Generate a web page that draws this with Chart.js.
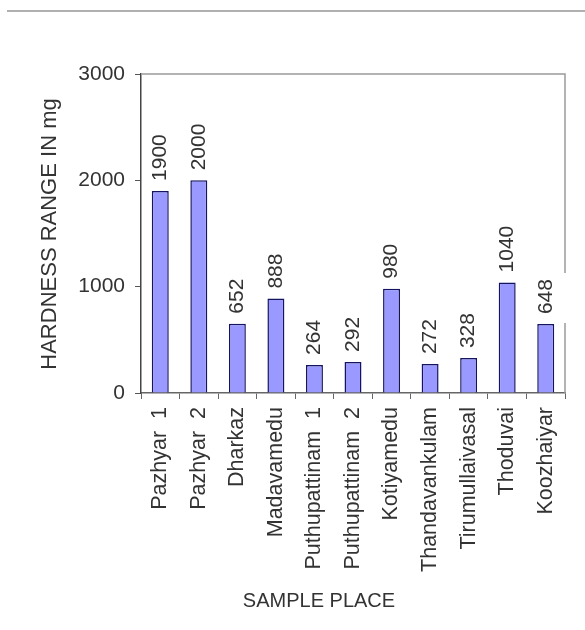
<!DOCTYPE html>
<html>
<head>
<meta charset="utf-8">
<script src="https://cdn.jsdelivr.net/npm/chart.js@4"></script>
<style>
  html, body { margin: 0; padding: 0; background: #ffffff; }
  #wrap { width: 585px; height: 630px; }
</style>
</head>
<body>
<div id="wrap"><canvas id="hardnessChart" width="585" height="630"></canvas></div>
<script>
const places = ['Pazhyar  1', 'Pazhyar  2', 'Dharkaz', 'Madavamedu', 'Puthupattinam  1',
    'Puthupattinam  2', 'Kotiyamedu', 'Thandavankulam', 'Tirumullaivasal', 'Thoduvai', 'Koozhaiyar'];
const hardness = [1900, 2000, 652, 888, 264, 292, 980, 272, 328, 1040, 648];
const yTicks = [0, 1000, 2000, 3000];

const FONT = '"Liberation Sans", Arial, sans-serif';
const TEXT = '#333333';

// top rule, right border with its break, axis titles
const framePlugin = {
    id: 'frame',
    beforeDraw(chart) {
        const ctx = chart.ctx;
        ctx.save();
        ctx.strokeStyle = '#b0b0b0';
        ctx.lineWidth = 2;
        ctx.beginPath();
        ctx.moveTo(7, 11);
        ctx.lineTo(585, 11);
        ctx.stroke();
        ctx.restore();
    },
    afterDraw(chart) {
        const ctx = chart.ctx;
        const a = chart.chartArea;
        ctx.save();
        ctx.strokeStyle = '#9a9a9a';
        ctx.lineWidth = 1.5;
        ctx.beginPath();
        ctx.moveTo(a.left, a.top);
        ctx.lineTo(a.right, a.top);
        ctx.lineTo(a.right, 273);
        ctx.moveTo(a.right, 323);
        ctx.lineTo(a.right, a.bottom);
        ctx.stroke();

        ctx.fillStyle = TEXT;
        ctx.textAlign = 'center';
        ctx.textBaseline = 'middle';
        ctx.font = '20px ' + FONT;
        ctx.fillText('SAMPLE PLACE', 319, 601);
        ctx.font = '22px ' + FONT;
        ctx.translate(50, 234);
        ctx.rotate(-Math.PI / 2);
        ctx.fillText('HARDNESS RANGE IN mg', 0, 0);
        ctx.restore();
    }
};

// vertical value labels above each bar
const valueLabels = {
    id: 'valueLabels',
    afterDatasetsDraw(chart) {
        const ctx = chart.ctx;
        const meta = chart.getDatasetMeta(0);
        ctx.save();
        ctx.fillStyle = TEXT;
        ctx.font = '21px ' + FONT;
        ctx.textAlign = 'left';
        ctx.textBaseline = 'middle';
        meta.data.forEach((bar, i) => {
            ctx.save();
            ctx.translate(bar.x, bar.y - 10);
            ctx.rotate(-Math.PI / 2);
            ctx.fillText(String(hardness[i]), 0, 0);
            ctx.restore();
        });
        ctx.restore();
    }
};

new Chart(document.getElementById('hardnessChart'), {
    type: 'bar',
    data: {
        labels: places,
        datasets: [{
            data: hardness,
            backgroundColor: '#9999ff',
            borderColor: '#141460',
            borderWidth: 1.5,
            barPercentage: 0.44,
            categoryPercentage: 1
        }]
    },
    options: {
        responsive: false,
        animation: false,
        devicePixelRatio: 1,
        layout: { padding: { top: 74, right: 20, left: 0, bottom: 0 } },
        plugins: {
            legend: { display: false },
            tooltip: { enabled: false }
        },
        scales: {
            x: {
                grid: {
                    offset: true,
                    drawOnChartArea: false,
                    drawTicks: true,
                    tickLength: 6,
                    color: '#666666'
                },
                border: { color: '#666666', width: 1.5 },
                ticks: {
                    color: TEXT,
                    font: { family: FONT, size: 21.5 },
                    minRotation: 90,
                    maxRotation: 90,
                    autoSkip: false,
                    padding: 8
                },
                afterFit(scale) { scale.height = 237; }
            },
            y: {
                min: 0,
                max: 3000,
                afterBuildTicks(scale) { scale.ticks = yTicks.map(v => ({ value: v })); },
                grid: {
                    drawOnChartArea: false,
                    drawTicks: true,
                    tickLength: 6,
                    color: '#555555'
                },
                border: { color: '#444444', width: 1.5 },
                ticks: {
                    color: TEXT,
                    font: { family: FONT, size: 21 },
                    padding: 10,
                    callback: v => String(v)
                },
                afterFit(scale) { scale.width = 141; }
            }
        }
    },
    plugins: [framePlugin, valueLabels]
});
</script>
</body>
</html>
